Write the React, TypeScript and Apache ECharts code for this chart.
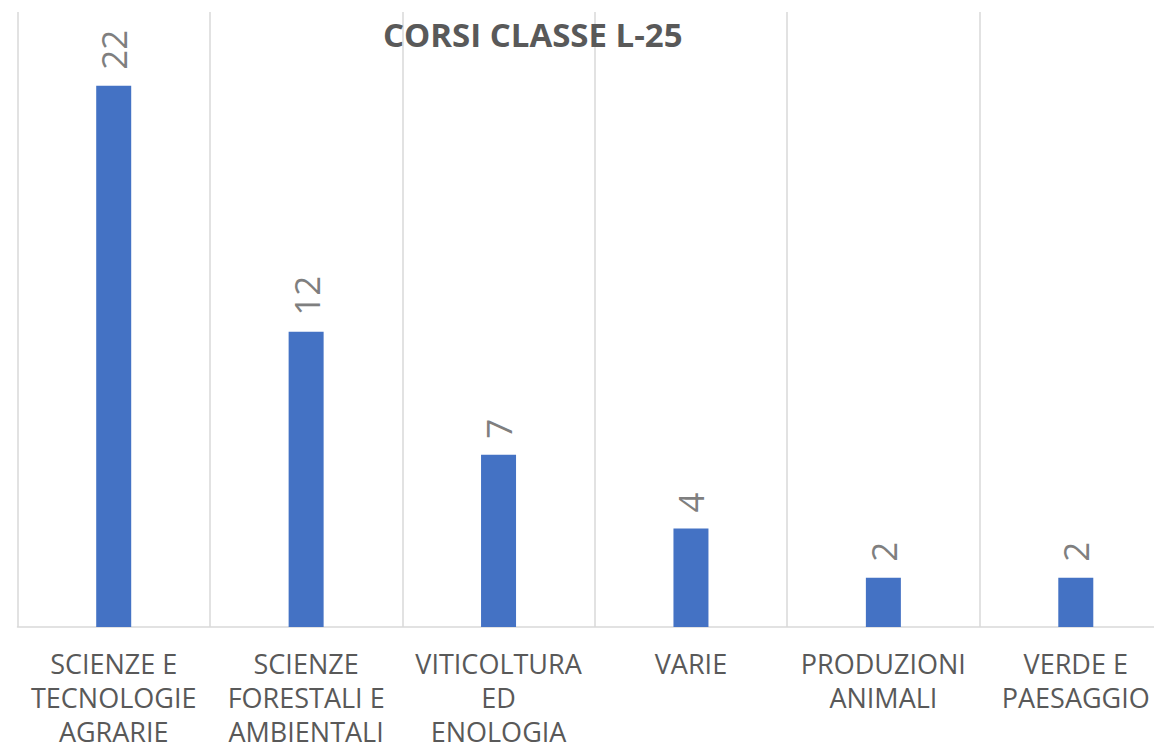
import React, { useEffect, useRef } from "react";
import * as echarts from "echarts";

const titleText = "CORSI CLASSE L-25";
const categories = [
  "SCIENZE E\nTECNOLOGIE\nAGRARIE",
  "SCIENZE\nFORESTALI E\nAMBIENTALI",
  "VITICOLTURA\nED\nENOLOGIA",
  "VARIE",
  "PRODUZIONI\nANIMALI",
  "VERDE E\nPAESAGGIO",
];
const values = [22, 12, 7, 4, 2, 2];

export default function App() {
  const ref = useRef<HTMLDivElement>(null);
  useEffect(() => {
    if (!ref.current) return;
    const chart = echarts.init(ref.current, null, { renderer: "svg" });
    chart.setOption({
      animation: false,
      backgroundColor: "#ffffff",
      title: {
        text: titleText,
        left: 378,
        top: 13,
        textStyle: {
          fontFamily: "Open Sans",
          fontWeight: "bold",
          fontSize: 33,
          color: "#595959",
        },
      },
      grid: { left: 17.5, right: 0, top: 12, bottom: 117, containLabel: false },
      xAxis: {
        type: "category",
        data: categories,
        axisLine: { show: true, lineStyle: { color: "#d9d9d9", width: 1.5 } },
        axisTick: { show: false },
        splitLine: { show: true, lineStyle: { color: "#d9d9d9", width: 1.5 } },
        axisLabel: {
          interval: 0,
          margin: 19,
          color: "#595959",
          fontFamily: "Open Sans",
          fontSize: 27,
          lineHeight: 34,
        },
      },
      yAxis: {
        type: "value",
        min: 0,
        max: 25,
        show: false,
        splitLine: { show: false },
      },
      series: [
        {
          type: "bar",
          data: values,
          barWidth: 35,
          itemStyle: { color: "#4472c4" },
          label: {
            show: true,
            position: "top",
            rotate: 90,
            align: "left",
            verticalAlign: "middle",
            distance: 16,
            color: "#7f7f7f",
            fontFamily: "Open Sans",
            fontSize: 35,
          },
        },
      ],
    });
    return () => chart.dispose();
  }, []);
  return (
    <div
      style={{
        position: "fixed",
        left: 0,
        top: 0,
        width: 1154,
        height: 748,
        overflow: "hidden",
      }}
    >
      <div ref={ref} style={{ width: 1172, height: 748 }} />
    </div>
  );
}
